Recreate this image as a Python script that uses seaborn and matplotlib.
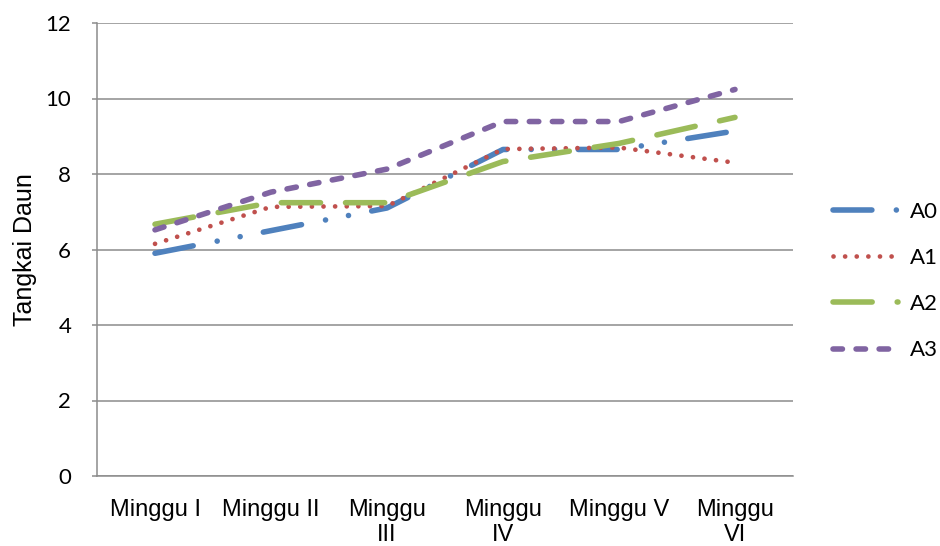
import matplotlib
matplotlib.use("Agg")
import matplotlib.pyplot as plt
import pandas as pd
import seaborn as sns

# ==============================
# DATOS
# ==============================

minggu = ["Minggu I", "Minggu II", "Minggu III", "Minggu IV", "Minggu V", "Minggu VI"]
label_minggu = ["Minggu I", "Minggu II", "Minggu\nIII", "Minggu\nIV", "Minggu V", "Minggu\nVI"]

a0 = [5.9, 6.5, 7.1, 8.65, 8.65, 9.14]
a1 = [6.15, 7.13, 7.15, 8.66, 8.7, 8.3]
a2 = [6.67, 7.24, 7.24, 8.33, 8.81, 9.5]
a3 = [6.52, 7.52, 8.13, 9.39, 9.39, 10.24]

series = {"A0": a0, "A1": a1, "A2": a2, "A3": a3}
warna = {"A0": "#4F81BD", "A1": "#C0504D", "A2": "#9BBB59", "A3": "#8064A2"}
tebal = {"A0": 4.0, "A1": 3.4, "A2": 4.0, "A3": 4.0}
gaya = {
    "A0": (0, (7.0, 4.4, 0.01, 4.2, 0.01, 4.25)),
    "A1": (0, (0.01, 2.45)),
    "A2": (0, (7.05, 4.5)),
    "A3": (0, (1.7, 2.45)),
}

# ==============================
# ESTILO
# ==============================

sns.set_style("white")
plt.rcParams["font.family"] = ["Lato", "DejaVu Sans"]
arial = ["Liberation Sans", "DejaVu Sans"]
abu = "#8c8c8c"

fig = plt.figure(figsize=(9.4, 5.46), dpi=100)
ax = fig.add_axes([97 / 940, 1 - 476 / 546, 696 / 940, 453 / 546])

for nama, nilai in series.items():
    df = pd.DataFrame({"minggu": minggu, "nilai": nilai})
    sns.lineplot(data=df, x="minggu", y="nilai", ax=ax, color=warna[nama],
                 linewidth=tebal[nama], linestyle=gaya[nama], dash_capstyle="round",
                 solid_capstyle="round", label=nama, sort=False)

ax.set_xlim(-0.5, 5.5)
ax.set_ylim(0, 12)
ax.set_yticks(range(0, 13, 2))
ax.yaxis.grid(True, color=abu, linewidth=1.1)
ax.set_axisbelow(True)

ax.set_xticks(range(len(minggu)))
ax.set_xticklabels(label_minggu, family=arial, fontsize=17, linespacing=1.2)
ax.tick_params(axis="x", length=0, pad=16.5, labelcolor="black")
ax.tick_params(axis="y", length=3.6, width=1.1, color=abu, left=True, labelsize=16,
               pad=15, labelcolor="black")

for s in ["top", "right"]:
    ax.spines[s].set_visible(False)
for s in ["left", "bottom"]:
    ax.spines[s].set_color(abu)
    ax.spines[s].set_linewidth(1.1)

ax.set_xlabel("")
ax.set_ylabel("Tangkai Daun", family=arial, fontsize=18, labelpad=6, color="black")

leg = ax.legend(loc="center left", bbox_to_anchor=(833 / 940, 1 - 281 / 546),
                bbox_transform=fig.transFigure, frameon=False, fontsize=16,
                handlelength=2.93, handletextpad=0.54, labelspacing=1.18,
                borderpad=0, borderaxespad=0)
for t in leg.get_texts():
    t.set_color("black")

fig.savefig("out.png", dpi=100)
